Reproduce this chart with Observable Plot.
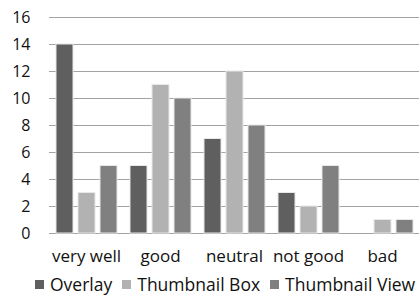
<!DOCTYPE html>
<html><head>
<meta charset="utf-8">
<script src="https://cdn.jsdelivr.net/npm/d3@7"></script>
<script src="https://cdn.jsdelivr.net/npm/@observablehq/plot@0.6"></script>
<style>
body{margin:0;background:#fff;font-family:"Open Sans",sans-serif;}
#legend{display:flex;justify-content:flex-start;align-items:center;font-size:17.5px;color:#111;height:24px;padding-left:35px;white-space:nowrap;}
#legend span.sw{display:inline-block;width:9px;height:9px;margin-right:6px;}
#legend span.it{display:inline-flex;align-items:center;margin-right:10px;}
</style>
</head><body>
<div id="chart"></div>
<div id="legend"></div>
<script>
const categories = ["very well", "good", "neutral", "not good", "bad"];
const series = ["Overlay", "Thumbnail Box", "Thumbnail View"];
const overlay = [14, 5, 7, 3, 0];
const thumbnailBox = [3, 11, 12, 2, 1];
const thumbnailView = [5, 10, 8, 5, 1];
const colors = ["#5f5f5f", "#b2b2b2", "#808080"];
const yTicks = [0, 2, 4, 6, 8, 10, 12, 14, 16];

const valuesBySeries = [overlay, thumbnailBox, thumbnailView];
const data = [];
categories.forEach((c, i) => {
  series.forEach((s, j) => data.push({category: c, series: s, value: valuesBySeries[j][i]}));
});

const chart = Plot.plot({
  width: 420,
  height: 272,
  marginLeft: 47,
  marginRight: 0,
  marginTop: 17,
  marginBottom: 39,
  style: {fontFamily: "Open Sans, sans-serif", fontSize: "16px", color: "#111", background: "#fff"},
  fx: {domain: categories, padding: 0, label: null},
  x: {domain: series, paddingInner: 0.24, paddingOuter: 0.28, axis: null},
  y: {domain: [0, 16], ticks: yTicks, label: null},
  color: {domain: series, range: colors},
  marks: [
    Plot.gridY(yTicks, {stroke: "#a3a3a3", strokeOpacity: 1, strokeWidth: 1.2}),
    Plot.axisY(yTicks, {tickSize: 0, tickPadding: 19, fontSize: 16, label: null}),
    Plot.axisFx({anchor: "bottom", tickSize: 0, tickPadding: 16, fontSize: 17, label: null}),
    Plot.barY(data, {fx: "category", x: "series", y: "value", fill: "series", stroke: "#e8e8e8", strokeWidth: 1})
  ]
});
document.getElementById("chart").appendChild(chart);

const legend = document.getElementById("legend");
series.forEach((s, j) => {
  const it = document.createElement("span");
  it.className = "it";
  const sw = document.createElement("span");
  sw.className = "sw";
  sw.style.background = colors[j];
  it.appendChild(sw);
  it.appendChild(document.createTextNode(s));
  legend.appendChild(it);
});
</script>
</body></html>
